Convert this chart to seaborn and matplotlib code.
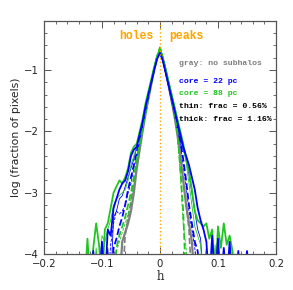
import numpy as np
import pandas as pd
import matplotlib
matplotlib.use("Agg")
import matplotlib.pyplot as plt
from matplotlib.ticker import MultipleLocator
import seaborn as sns

# bin centres in h (step 0.005), E = empty bin (log of zero, drawn below the axis)
E = -4.5
h = np.round(np.arange(-0.13, 0.1601, 0.005), 3)

# core = 22 pc
blue_thick = [E, E, E, -3.95, E, E, -3.8, E, -3.6, -3.7, -3.25, -3.1, -2.95, -2.85, -2.8, -2.65,
              -2.4, -2.3, -2.25, -2.05, -1.85, -1.6, -1.4, -1.2, -1.0, -0.82, -0.72,
              -0.85, -1.05, -1.25, -1.45, -1.65, -1.85, -2.05, -2.25, -2.4, -2.55, -2.75, -2.95,
              -3.25, -3.45, -3.6, -3.8, E, -3.7, E, -3.75, E, -3.9, E, -3.8, E, E, -3.95, E, E,
              -3.95, E, E]
blue_thin = [E, E, E, E, E, E, E, E, -3.9, E, -3.4, -3.3, -3.1, -3.05, -2.9, -2.75,
             -2.6, -2.45, -2.25, -2.05, -1.85, -1.62, -1.42, -1.2, -1.0, -0.83, -0.73,
             -0.86, -1.06, -1.27, -1.48, -1.7, -1.9, -2.1, -2.3, -2.45, -2.7, -3.0, -3.3,
             -3.6, -3.75, E, -3.9, E, E, E, E, E, E, E, E, E, E, E, E, E, E, E, E]
blue_thick_dash = [E, E, E, E, E, E, E, E, E, E, -3.9, -3.75, -3.55, -3.4, -3.2, -2.95,
                   -2.75, -2.55, -2.35, -2.1, -1.9, -1.65, -1.43, -1.2, -0.99, -0.8, -0.68,
                   -0.82, -1.03, -1.25, -1.48, -1.7, -1.93, -2.15, -2.45, -2.8, -3.2, -3.5, -3.8,
                   -3.95, E, E, E, E, E, E, E, E, E, E, E, E, E, E, E, E, E, E, E]
blue_thin_dash = [E, E, E, E, E, E, E, E, E, -3.85, -3.5, -3.3, -3.35, -3.3, -3.2, -3.0,
                  -2.85, -2.6, -2.4, -2.15, -1.93, -1.68, -1.45, -1.22, -1.0, -0.8, -0.67,
                  -0.81, -1.02, -1.24, -1.47, -1.7, -1.95, -2.2, -2.55, -2.9, -3.3, -3.6, -3.9,
                  E, E, E, E, E, E, E, E, E, E, E, E, E, E, E, E, E, E, E, E]

# core = 88 pc
green_thick = [E, -3.75, E, -3.9, -3.5, -3.85, E, -3.6, -3.5, -3.25, -3.0, -2.9, -2.8, -2.85, -2.75, -2.6,
               -2.35, -2.25, -2.2, -2.0, -1.8, -1.55, -1.35, -1.15, -0.95, -0.78, -0.65,
               -0.82, -1.0, -1.2, -1.4, -1.6, -1.8, -2.0, -2.2, -2.45, -2.65, -2.95, -3.3,
               -3.45, -3.5, -3.55, -3.5, -3.75, -3.6, E, -3.55, -3.9, -3.5, -3.85, -3.7, -3.95, E,
               E, E, E, E, E, E]
green_thin = [E, E, E, E, -3.9, E, -3.7, -3.8, -3.6, -3.45, -3.2, -3.1, -3.05, -3.0, -2.95, -2.8,
              -2.55, -2.4, -2.25, -2.05, -1.85, -1.6, -1.38, -1.17, -0.96, -0.78, -0.64,
              -0.8, -0.98, -1.18, -1.38, -1.58, -1.8, -2.02, -2.25, -2.5, -2.85, -3.2, -3.55,
              -3.7, -3.85, E, -3.9, E, E, -3.85, E, E, E, E, E, E, E, E, E, E, E, E, E]
green_thick_dash = [E, E, E, E, E, E, E, E, E, E, E, -3.9, -3.7, -3.55, -3.4, -3.2,
                    -3.0, -2.75, -2.45, -2.2, -1.95, -1.7, -1.45, -1.22, -0.99, -0.78, -0.63,
                    -0.8, -1.0, -1.22, -1.45, -1.7, -2.0, -2.6, -3.3, E, E, E, E,
                    E, E, E, E, E, E, E, E, E, E, E, E, E, E, E, E, E, E, E, E]
green_thin_dash = [E, E, E, E, E, E, E, E, E, E, E, -3.95, -3.8, -3.65, -3.5, -3.35,
                   -3.1, -2.85, -2.55, -2.28, -2.0, -1.74, -1.48, -1.24, -1.0, -0.79, -0.64,
                   -0.8, -1.0, -1.22, -1.46, -1.72, -2.05, -2.7, -3.5, -3.9, E, E, E,
                   E, E, E, E, E, E, E, E, E, E, E, E, E, E, E, E, E, E, E, E]

# no subhalos
gray_solid = [E, E, E, E, E, E, E, E, E, E, E, E, E, -3.8, -3.65, -3.5,
              -3.3, -3.0, -2.6, -2.3, -2.0, -1.72, -1.47, -1.23, -1.0, -0.8, -0.68,
              -0.82, -1.03, -1.26, -1.5, -1.75, -2.05, -2.4, -2.8, -3.2, -3.5, -3.8, E,
              E, E, E, E, E, E, E, E, E, E, E, E, E, E, E, E, E, E, E, E]
gray_dash = [E, E, E, E, E, E, E, E, E, E, E, E, E, E, -3.7, -3.4,
             -3.15, -2.85, -2.5, -2.2, -1.95, -1.7, -1.45, -1.22, -0.99, -0.79, -0.66,
             -0.81, -1.02, -1.25, -1.49, -1.74, -2.02, -2.35, -2.75, -3.15, -3.6, E, E,
             E, E, E, E, E, E, E, E, E, E, E, E, E, E, E, E, E, E, E, E]

blue = "#0000ff"
green = "#22c422"
gray = "#7f7f7f"
orange = "#ffa500"

series = [
    (gray_solid, gray, "-", 1.6),
    (gray_dash, gray, "--", 1.2),
    (blue_thin, blue, "-", 0.6),
    (green_thin, green, "-", 0.6),
    (blue_thin_dash, blue, "--", 0.6),
    (green_thin_dash, green, "--", 0.6),
    (blue_thick_dash, blue, "--", 1.3),
    (green_thick_dash, green, "--", 1.3),
    (green_thick, green, "-", 1.3),
    (blue_thick, blue, "-", 1.3),
]

sns.set_style("ticks")
plt.rcParams["font.family"] = ["DejaVu Sans"]

fig = plt.figure(figsize=(2.93, 2.90), dpi=100)
ax = fig.add_axes([0.150, 0.124, 0.792, 0.804])

for vals, col, ls, lw in series:
    sns.lineplot(x=h, y=vals, ax=ax, color=col, linestyle=ls, linewidth=lw, legend=False)

ax.axvline(0, color=orange, linestyle=":", linewidth=1.0)

ax.set_xlim(-0.2, 0.2)
ax.set_ylim(-4, -0.2)
ax.xaxis.set_minor_locator(MultipleLocator(0.02))
ax.yaxis.set_minor_locator(MultipleLocator(0.2))
ax.set_xticks([-0.2, -0.1, 0, 0.1, 0.2])
ax.set_xticklabels(["\u22120.2", "\u22120.1", "0", "0.1", "0.2"])
ax.set_yticks([-4, -3, -2, -1])
ax.set_yticklabels(["\u22124", "\u22123", "\u22122", "\u22121"])
ax.tick_params(which="both", direction="in", top=True, right=True, labelsize=7.3,
               color="#555555", labelcolor="#222222")
ax.tick_params(which="major", length=5, width=0.7)
ax.tick_params(which="minor", length=2.5, width=0.6)
for s in ax.spines.values():
    s.set_linewidth(0.9)
    s.set_color("#555555")

ax.set_xlabel("h", fontsize=8.5, labelpad=1, family="DejaVu Serif", color="#222222")
ax.set_ylabel("log (fraction of pixels)", fontsize=7.8, labelpad=2, color="#222222")

mono = "Liberation Mono"
ax.text(-0.04, -0.45, "holes", color=orange, fontsize=8.3, fontweight="bold", family=mono,
        ha="center", va="center")
ax.text(0.046, -0.45, "peaks", color=orange, fontsize=8.3, fontweight="bold", family=mono,
        ha="center", va="center")
notes = [
    ("gray: no subhalos", gray, -0.89),
    ("core = 22 pc", blue, -1.19),
    ("core = 88 pc", green, -1.39),
    ("thin: frac = 0.56%", "black", -1.6),
    ("thick: frac = 1.16%", "black", -1.8),
]
for txt, col, yy in notes:
    ax.text(0.033, yy, txt, color=col, fontsize=5.9, fontweight="bold", family=mono,
            ha="left", va="center")

fig.savefig("out.png", dpi=100)
